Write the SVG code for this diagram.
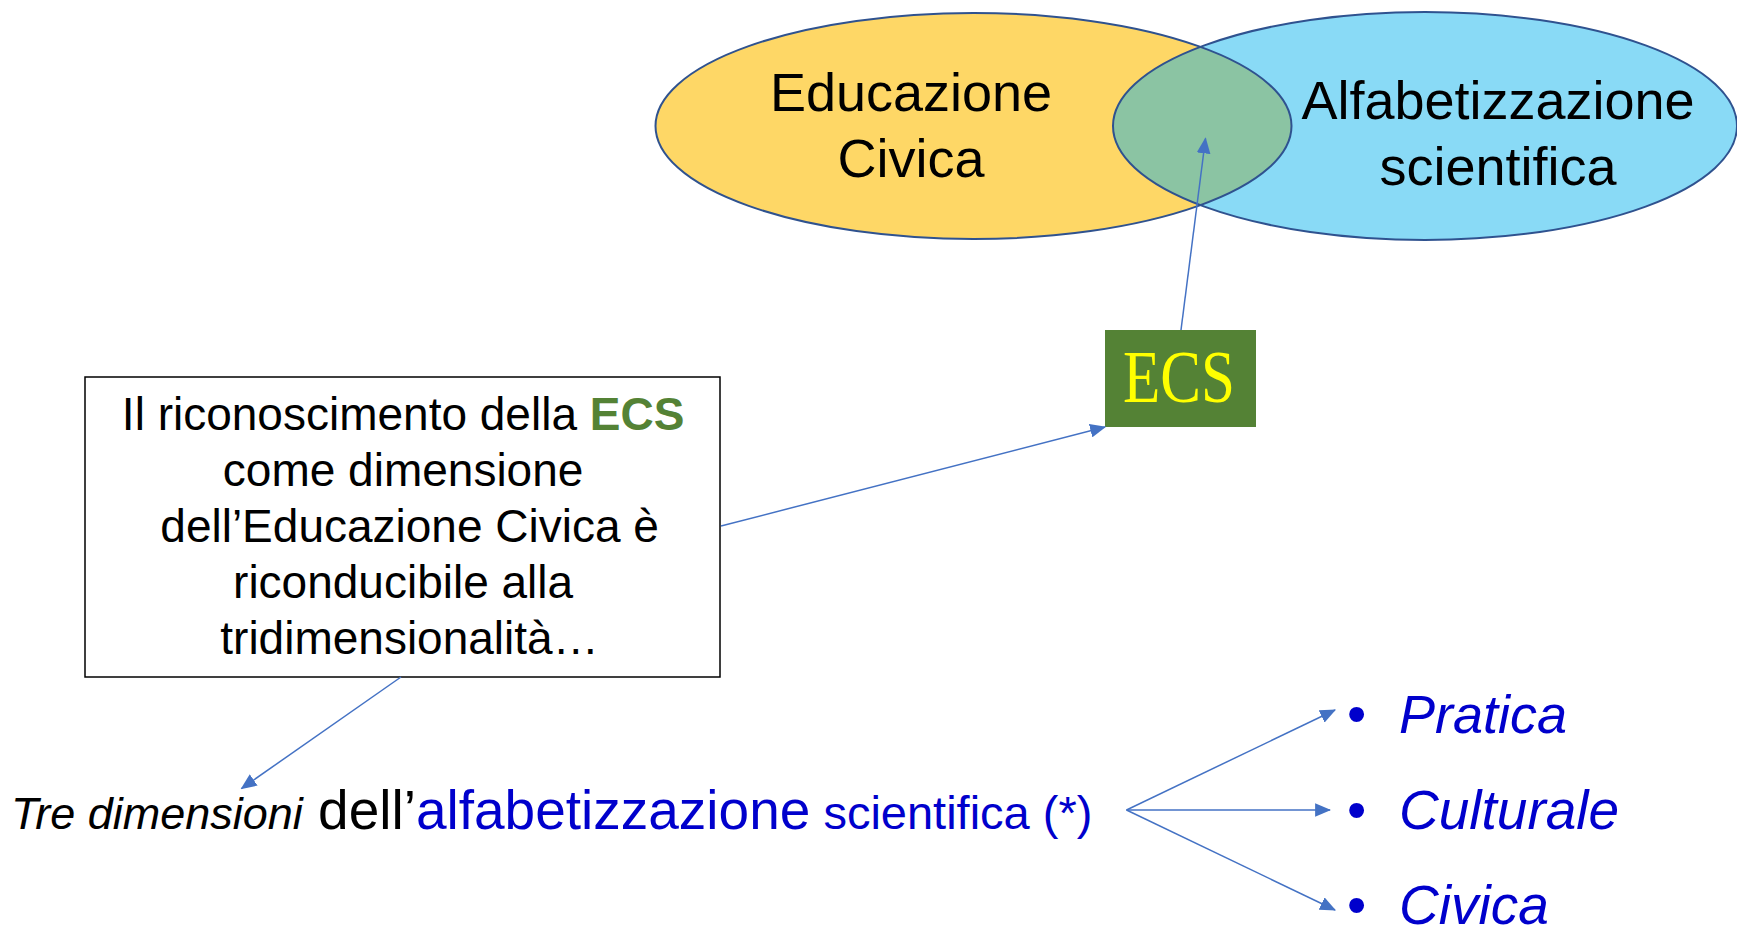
<svg xmlns="http://www.w3.org/2000/svg" width="1737" height="927" viewBox="0 0 1737 927">
<style>
.sans{font-family:"Liberation Sans",Arial,sans-serif}
.conn{stroke:#4472C4;stroke-width:1.5;fill:none}
.ell{stroke:#2F528F;stroke-width:2;fill:none}
.blue{fill:#0000CC}
</style>
<defs>
<marker id="arr" markerUnits="userSpaceOnUse" markerWidth="16" markerHeight="14" viewBox="0 0 14 12" refX="13" refY="6" orient="auto">
<path d="M0,0 L14,6 L0,12 Z" fill="#4472C4"/>
</marker>
<clipPath id="yclip"><ellipse cx="973.5" cy="126" rx="318" ry="113"/></clipPath>
</defs>
<rect width="1737" height="927" fill="#fff"/>
<g id="venn">
<ellipse cx="973.5" cy="126" rx="318" ry="113" fill="#FED766"/>
<ellipse cx="1425" cy="126" rx="312" ry="114" fill="#89DAF6"/>
<ellipse cx="1425" cy="126" rx="312" ry="114" fill="#8BC4A3" clip-path="url(#yclip)"/>
<ellipse class="ell" cx="973.5" cy="126" rx="318" ry="113"/>
<ellipse class="ell" cx="1425" cy="126" rx="312" ry="114"/>
</g>
<g id="educazione-civica">
<text class="sans" x="911" y="111" font-size="54" text-anchor="middle" fill="#000">Educazione</text>
<text class="sans" x="911" y="177" font-size="54" text-anchor="middle" fill="#000">Civica</text>
</g>
<g id="alfabetizzazione-scientifica">
<text class="sans" x="1498" y="119" font-size="54" text-anchor="middle" fill="#000">Alfabetizzazione</text>
<text class="sans" x="1498" y="185" font-size="54" text-anchor="middle" fill="#000">scientifica</text>
</g>
<g id="ecs">
<rect x="1105" y="330" width="151" height="97" fill="#548235"/>
<text x="1123" y="401.5" font-family="'Liberation Serif','DejaVu Serif',serif" font-size="74" fill="#FFFF00" textLength="112" lengthAdjust="spacingAndGlyphs">ECS</text>
</g>
<g id="box">
<rect x="85" y="377" width="635" height="300" fill="#fff" stroke="#000" stroke-width="1.5"/>
<text class="sans" font-size="46" fill="#000" text-anchor="middle">
<tspan x="409.5" y="430">Il riconoscimento della <tspan fill="#548235" font-weight="bold">ECS</tspan></tspan>
<tspan x="409.5" y="486">come dimensione</tspan>
<tspan x="416" y="542">dell’Educazione Civica è</tspan>
<tspan x="409.5" y="598">riconducibile alla</tspan>
<tspan x="409.5" y="654">tridimensionalità…</tspan>
</text>
</g>
<g id="tre-dimensioni">
<text class="sans" x="11" y="829" fill="#000"><tspan font-size="45" font-style="italic">Tre dimensioni</tspan><tspan font-size="55"> dell’</tspan><tspan font-size="55" class="blue">alfabetizzazione</tspan><tspan font-size="47" class="blue"> scientifica (*)</tspan></text>
</g>
<g id="pratica">
<text class="sans blue" x="1347" y="733" font-size="55">•</text>
<text class="sans blue" x="1399" y="733" font-size="54" font-style="italic">Pratica</text>
</g>
<g id="culturale">
<text class="sans blue" x="1347" y="829" font-size="55">•</text>
<text class="sans blue" x="1399" y="829" font-size="55" font-style="italic">Culturale</text>
</g>
<g id="civica">
<text class="sans blue" x="1347" y="924" font-size="55">•</text>
<text class="sans blue" x="1399" y="924" font-size="55" font-style="italic">Civica</text>
</g>
<g id="connectors">
<line class="conn" x1="1181" y1="330" x2="1205.5" y2="138.5" marker-end="url(#arr)"/>
<line class="conn" x1="721" y1="526" x2="1105" y2="427" marker-end="url(#arr)"/>
<line class="conn" x1="401" y1="677" x2="241.5" y2="788.5" marker-end="url(#arr)"/>
<line class="conn" x1="1126.5" y1="810" x2="1335" y2="710" marker-end="url(#arr)"/>
<line class="conn" x1="1126.5" y1="810" x2="1330" y2="810" stroke-width="2.5" marker-end="url(#arr)"/>
<line class="conn" x1="1126.5" y1="810" x2="1335" y2="910" marker-end="url(#arr)"/>
</g>
</svg>
